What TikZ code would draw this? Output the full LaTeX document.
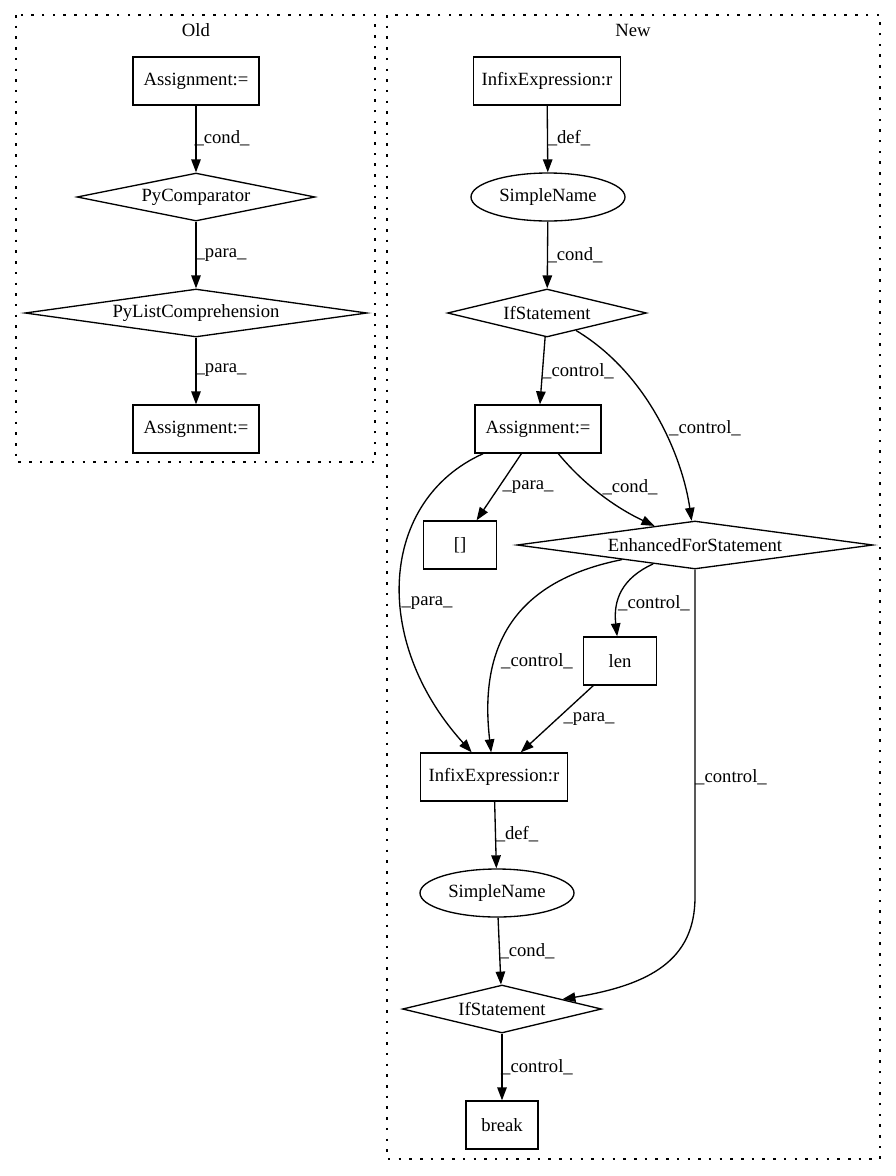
\documentclass[tikz,border=0pt]{standalone}
\usepackage{fontspec}
\setmainfont{Liberation Serif}
\usetikzlibrary{shapes.geometric,arrows.meta}
\begin{document}
\begin{tikzpicture}[x=1pt,y=-1pt,
  every node/.style={font=\fontsize{18.67}{22}\selectfont},
  box/.style={draw,rectangle,line width=1.33pt,minimum height=48pt,inner xsep=6pt},
  dia/.style={draw,diamond,line width=1.33pt,inner sep=0pt,minimum height=48pt},
  ell/.style={draw,ellipse,line width=1.33pt,minimum width=154pt,minimum height=48pt,inner sep=0pt},
  lbl/.style={inner sep=0pt},
  conn/.style={line width=1.33pt,-{Triangle[length=13pt,width=9.5pt]}},
  clus/.style={line width=1.33pt,dash pattern=on 2.5pt off 8.2pt}]
\useasboundingbox (0,0) rectangle (896,1176);
% clusters
\draw[clus] (16,15) rectangle (375,462);
\draw[clus] (387,15) rectangle (880,1159);
\node (told) at (196,30) {Old};
\node (tnew) at (633,30) {New};
% Old nodes
\node[box,minimum width=126pt] (oa1) at (196,81) {Assignment:=};
\node[dia,minimum width=238pt] (opc) at (196,197) {\makebox[0pt]{PyComparator}};
\node[dia,minimum width=342pt] (olc) at (196,313) {\makebox[0pt]{PyListComprehension}};
\node[box,minimum width=126pt] (oa2) at (196,429) {Assignment:=};
% New nodes
\node[box,minimum width=147pt] (ni1) at (547,81) {InfixExpression:r};
\node[ell] (ns1) at (548,197) {SimpleName};
\node[dia,minimum width=199pt] (nif1) at (547,313) {\makebox[0pt]{IfStatement}};
\node[box,minimum width=126pt] (nas) at (538,429) {Assignment:=};
\node[box,minimum width=73pt] (nbr) at (460,545) {[]};
\node[dia,minimum width=356pt] (nef) at (695,545) {\makebox[0pt]{EnhancedForStatement}};
\node[box,minimum width=73pt] (nlen) at (620,661) {len};
\node[box,minimum width=147pt] (ni2) at (494,777) {InfixExpression:r};
\node[ell] (ns2) at (497,893) {SimpleName};
\node[dia,minimum width=199pt] (nif2) at (502,1009) {\makebox[0pt]{IfStatement}};
\node[box,minimum width=72pt] (nbk) at (502,1125) {break};
% Old edges
\draw[conn] (oa1) -- (opc);
\draw[conn] (opc) -- (olc);
\draw[conn] (olc) -- (oa2);
\node[lbl] (lo1) at (222,138) {\_cond\_};
\node[lbl] (lo2) at (221,255) {\_para\_};
\node[lbl] (lo3) at (221,370) {\_para\_};
% New edges
\draw[conn] (ni1) -- (ns1);
\draw[conn] (ns1) -- (nif1);
\draw[conn] (nif1) -- (nas);
\draw[conn] (nif1) .. controls (650,375) and (683,460) .. (nef);
\draw[conn] (nas) -- (nbr);
\draw[conn] (nas) .. controls (580,480) and (610,505) .. (nef);
\draw[conn] (nas) .. controls (380,500) and (370,640) .. (ni2);
\draw[conn] (nef) .. controls (520,580) and (478,640) .. (ni2);
\draw[conn] (nef) .. controls (622,578) and (613,600) .. (nlen);
\draw[conn] (nlen) -- (ni2);
\coordinate (bend) at (695,897);
\draw[conn] (nef.south) -- (bend) .. controls (695,960) and (650,985) .. (nif2);
\draw[conn] (ni2) -- (ns2);
\draw[conn] (ns2) -- (nif2);
\draw[conn] (nif2) -- (nbk);
\node[lbl] (ln1) at (569,138) {\_def\_};
\node[lbl] (ln2) at (575,255) {\_cond\_};
\node[lbl] (ln3) at (578,371) {\_control\_};
\node[lbl] (ln4) at (705,428) {\_control\_};
\node[lbl] (ln5) at (528,487) {\_para\_};
\node[lbl] (ln6) at (630,487) {\_cond\_};
\node[lbl] (ln7) at (427,603) {\_para\_};
\node[lbl] (ln8) at (654,603) {\_control\_};
\node[lbl] (ln9) at (537,661) {\_control\_};
\node[lbl] (ln10) at (589,719) {\_para\_};
\node[lbl] (ln11) at (731,777) {\_control\_};
\node[lbl] (ln12) at (517,834) {\_def\_};
\node[lbl] (ln13) at (527,951) {\_cond\_};
\node[lbl] (ln14) at (537,1067) {\_control\_};
\end{tikzpicture}
\end{document}
